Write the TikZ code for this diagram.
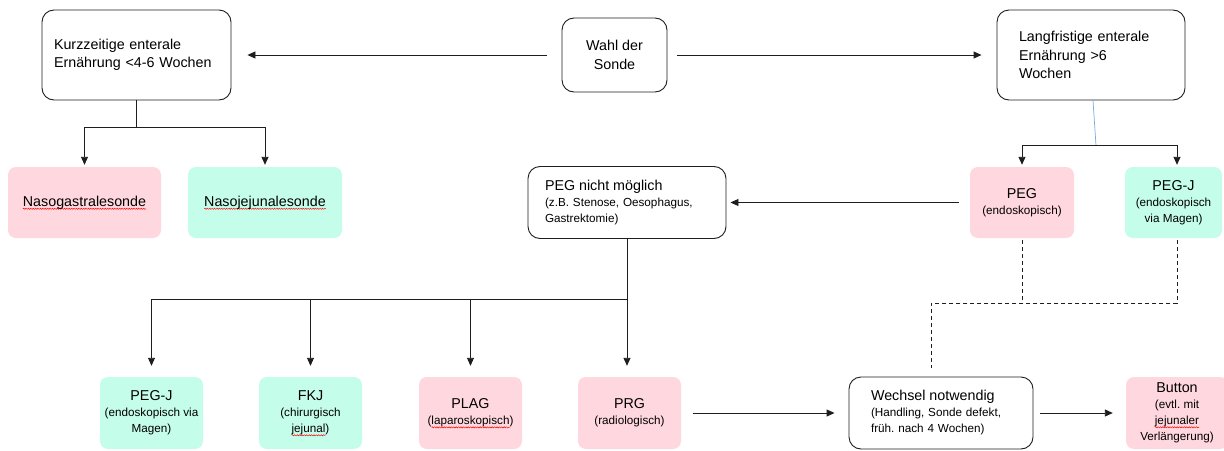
\documentclass[tikz,border=0pt]{standalone}
\usepackage{fontspec}
\setmainfont{Liberation Sans}
\usetikzlibrary{arrows.meta,calc,decorations.pathmorphing}
\frenchspacing
\newdimen\spellw
\newcommand\spellerr[1]{\setbox0=\hbox{#1}\global\spellw=\wd0\rlap{\tikz[overlay,baseline=0pt]\draw[red,line width=0.45pt,sharp corners,solid,decorate,decoration={snake,amplitude=0.6pt,segment length=2.4pt}] (0pt,-2.6pt) -- (\the\spellw,-2.6pt);}\box0}
\newcommand\fbig{\fontsize{14.3}{18.5}\selectfont}
\newcommand\fsm{\fontsize{11.7}{16}\selectfont}
\definecolor{pinkbox}{RGB}{255,215,222}
\definecolor{mintbox}{RGB}{197,253,235}
\definecolor{linegray}{RGB}{30,30,30}
\definecolor{thinblue}{RGB}{120,170,220}
\tikzset{
  wbox/.style={draw=linegray,line width=0.9pt,rounded corners=12pt,fill=white,inner sep=0pt},
  pbox/.style={fill=pinkbox,rounded corners=8pt,inner sep=0pt,align=center,font=\fsm},
  mbox/.style={fill=mintbox,rounded corners=8pt,inner sep=0pt,align=center,font=\fsm},
  arr/.style={draw=linegray,line width=0.9pt,-{Triangle[length=8pt,width=7pt]}},
  plain/.style={draw=linegray,line width=0.9pt},
  dashline/.style={draw=linegray,line width=0.8pt,dash pattern=on 4pt off 3pt}
}
\begin{document}
\begin{tikzpicture}[x=1pt,y=-1pt]
\useasboundingbox (0,0) rectangle (1224,450);
\fill[white] (0,0) rectangle (1224,450);

% top row
\node[wbox,minimum width=189pt,minimum height=90pt,text width=165pt,align=left,font=\fbig] (kurz) at (136.5,55) {Kurzzeitige enterale\\Ernährung <4-6 Wochen};
\node[wbox,minimum width=105pt,minimum height=74pt,align=center,font=\fbig] (wahl) at (614.5,55) {Wahl der\\Sonde};
\node[wbox,minimum width=188pt,minimum height=90pt,text width=144pt,align=left,font=\fbig] (lang) at (1091,55) {Langfristige enterale\\Ernährung >6\\Wochen};

% second row
\node[pbox,minimum width=153pt,minimum height=71pt,font=\fbig] (nasog) at (84.5,202.5) {\spellerr{Nasogastralesonde}};
\node[mbox,minimum width=154pt,minimum height=71pt,font=\fbig] (nasoj) at (265,202.5) {\spellerr{Nasojejunalesonde}};
\node[wbox,minimum width=198pt,minimum height=72pt,text width=164pt,align=left,font=\fsm] (nicht) at (627,202.5) {{\fbig PEG nicht möglich}\\(z.B. Stenose, Oesophagus,\\Gastrektomie)};
\node[pbox,minimum width=104pt,minimum height=71pt] (peg) at (1022,202.5) {{\fbig PEG}\\(endoskopisch)};
\node[mbox,minimum width=97pt,minimum height=71pt] (pegjA) at (1173.5,202.5) {{\fbig PEG-J}\\(endoskopisch\\via Magen)};

% bottom row
\node[mbox,minimum width=103pt,minimum height=72pt] (pegjB) at (151.5,413) {{\fbig PEG-J}\\(endoskopisch via\\Magen)};
\node[mbox,minimum width=103pt,minimum height=72pt] (fkj) at (310.5,413) {{\fbig FKJ}\\(chirurgisch\\\spellerr{jejunal})};
\node[pbox,minimum width=103pt,minimum height=72pt] (plag) at (470.5,413) {{\fbig PLAG}\\(\spellerr{laparoskopisch})};
\node[pbox,minimum width=103pt,minimum height=72pt] (prg) at (629.5,413) {{\fbig PRG}\\(radiologisch)};
\node[wbox,minimum width=184pt,minimum height=72pt,text width=140pt,align=left,font=\fsm] (wechsel) at (941,413) {{\fbig Wechsel notwendig}\\(Handling, Sonde defekt,\\früh. nach 4 Wochen)};
\node[pbox,minimum width=102pt,minimum height=72pt] (button) at (1177,413) {{\fbig Button}\\(evtl. mit\\\spellerr{jejunaler}\\Verlängerung)};

% connectors top
\draw[arr,shorten <=15pt,shorten >=16pt] (wahl.west) -- (kurz.east);
\draw[arr,shorten <=10pt,shorten >=15pt] (wahl.east) -- (lang.west);

\coordinate (kj) at ($(kurz.south)+(0,27)$);
\draw[plain] (kurz.south) -- (kj);
\draw[arr,shorten >=2pt] (kj) -| (nasog.north);
\draw[arr,shorten >=2pt] (kj) -| (nasoj.north);

\coordinate (lj) at ($(lang.south)+(5,45)$);
\draw[thinblue,line width=0.7pt] ([xshift=2pt]lang.south) -- (lj);
\coordinate (pjtop) at ($(pegjA.north)+(3.5,0)$);
\draw[arr,shorten >=2pt] (lj) -| (peg.north);
\draw[arr,shorten >=2pt] (lj) -| (pjtop);

\draw[arr,shorten <=11pt,shorten >=4pt] (peg.west) -- (nicht.east);

\coordinate (nj) at ($(nicht.south)+(0,60)$);
\draw[plain] (nicht.south) -- (nj);
\draw[arr,shorten >=11pt] (nj) -| (pegjB.north);
\draw[arr,shorten >=11pt] (nj) -| (fkj.north);
\draw[arr,shorten >=11pt] (nj) -| (plag.north);
\draw[arr,shorten >=11pt] (nj) -- (nj |- prg.north);

\draw[arr,shorten <=12pt,shorten >=14pt] (prg.east) -- (wechsel.west);
\draw[arr,shorten <=7pt,shorten >=13pt] (wechsel.east) -- (button.west);

% dashed connectors
\coordinate (pjbot) at ($(pegjA.south)+(3.5,0)$);
\coordinate (dj) at ($(wechsel.north)+(-10,-73)$);
\draw[dashline,shorten <=2pt] (peg.south) -- (peg.south |- dj);
\draw[dashline,shorten <=2pt,shorten >=9pt] (pjbot) |- (dj) -- (dj |- wechsel.north);
\end{tikzpicture}
\end{document}
